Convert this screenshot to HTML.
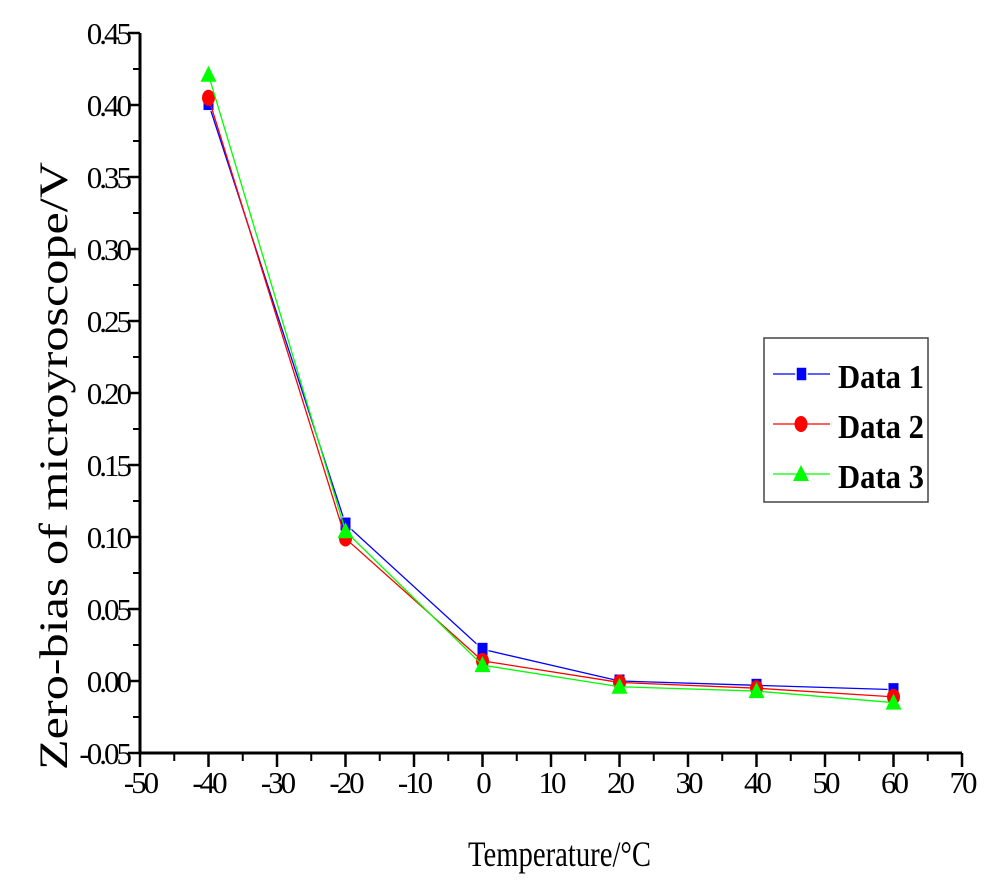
<!DOCTYPE html>
<html><head><meta charset="utf-8"><style>
html,body{margin:0;padding:0;background:#fff;}
svg{display:block;font-family:"Liberation Serif",serif;}
</style></head><body>
<svg id="chart" width="1000" height="887" viewBox="0 0 1000 887" xmlns="http://www.w3.org/2000/svg">
<g id="axes"></g><g id="series"></g>
<g>
<rect x="764" y="338" width="164" height="164" fill="#fff" stroke="#444" stroke-width="1.5"/>
<g>
<line x1="773" y1="374" x2="830" y2="374" stroke="#00f" stroke-width="1.2"/>
<rect x="796" y="367" width="11" height="14" fill="#00f" stroke="#fff" stroke-width="1.5"/>
<text x="838" y="388" font-size="34" font-weight="bold" textLength="86" lengthAdjust="spacingAndGlyphs">Data 1</text></g>
<g>
<line x1="773" y1="424" x2="830" y2="424" stroke="#f00" stroke-width="1.2"/>
<ellipse cx="801" cy="424" rx="6.5" ry="8" fill="#f00"/>
<text x="838" y="438" font-size="34" font-weight="bold" textLength="86" lengthAdjust="spacingAndGlyphs">Data 2</text></g>
<g>
<line x1="773" y1="474" x2="830" y2="474" stroke="#0f0" stroke-width="1.2"/>
<polygon points="793,481 809,481 801,465" fill="#0f0"/>
<text x="838" y="488" font-size="34" font-weight="bold" textLength="86" lengthAdjust="spacingAndGlyphs">Data 3</text></g>
</g>
<text x="468" y="866" font-size="36" textLength="183" lengthAdjust="spacingAndGlyphs">Temperature/°C</text>
<text transform="translate(67,466) rotate(-90)" text-anchor="middle" font-size="40" textLength="608" lengthAdjust="spacingAndGlyphs">Zero-bias of microyroscope/V</text>
</svg>
<script>
const categories = [-40, -20, 0, 20, 40, 60];
const data1 = [0.401, 0.109, 0.022, 0.000, -0.003, -0.006];
const data2 = [0.405, 0.099, 0.014, -0.001, -0.005, -0.011];
const data3 = [0.421, 0.104, 0.011, -0.004, -0.007, -0.015];
const xTicks = [-50, -40, -30, -20, -10, 0, 10, 20, 30, 40, 50, 60, 70];
const yTicks = [-0.05, 0.00, 0.05, 0.10, 0.15, 0.20, 0.25, 0.30, 0.35, 0.40, 0.45];

const NS = "http://www.w3.org/2000/svg";
const X0 = 140, X1 = 962, Y0 = 753, Y1 = 33;
function xs(v){ return X0 + (v - (-50)) / 120 * (X1 - X0); }
function ys(v){ return Y0 - (v - (-0.05)) / 0.5 * (Y0 - Y1); }
function mk(tag, attrs, parent){ const e = document.createElementNS(NS, tag); for (const k in attrs) e.setAttribute(k, attrs[k]); parent.appendChild(e); return e; }

const axes = document.getElementById('axes');
const xa = mk('line', {x1: X0, y1: Y0, x2: X1, y2: Y0, stroke: '#000', 'stroke-width': 3}, axes);


const ya = mk('line', {x1: X0, y1: Y0 + 1.5, x2: X0, y2: Y1, stroke: '#000', 'stroke-width': 3}, axes);


xTicks.forEach((t, i) => {
  const x = xs(t);
  mk('line', {x1: x, y1: Y0, x2: x, y2: Y0 + 14, stroke: '#000', 'stroke-width': 2.5}, axes);
  if (i < xTicks.length - 1) mk('line', {x1: xs(t + 5), y1: Y0, x2: xs(t + 5), y2: Y0 + 8, stroke: '#000', 'stroke-width': 2}, axes);
  const lbl = mk('text', {x: x, y: 793, 'font-size': 31, 'text-anchor': 'middle', 'letter-spacing': -3}, axes);
  lbl.textContent = String(t);
  
  
});
yTicks.forEach((t, i) => {
  const y = ys(t);
  mk('line', {x1: X0 - 12, y1: y, x2: X0, y2: y, stroke: '#000', 'stroke-width': 2.5}, axes);
  if (i < yTicks.length - 1) mk('line', {x1: X0 - 7, y1: ys(t + 0.025), x2: X0, y2: ys(t + 0.025), stroke: '#000', 'stroke-width': 2}, axes);
  const lbl = mk('text', {x: X0 - 11, y: y + 11, 'font-size': 31, 'text-anchor': 'end', 'letter-spacing': -3}, axes);
  lbl.textContent = t.toFixed(2);
  
  
});

const series = document.getElementById('series');
const defs = [[data1, '#00f', 'square', 'data-1'], [data2, '#f00', 'circle', 'data-2'], [data3, '#0f0', 'triangle', 'data-3']];
defs.forEach(([vals, col, shape, name]) => {
  const g = mk('g', {}, series);
  
  
  const pts = categories.map((c, i) => xs(c) + ',' + ys(vals[i])).join(' ');
  const pl = mk('polyline', {points: pts, fill: 'none', stroke: col, 'stroke-width': 1.3}, g);
  
  
  categories.forEach((c, i) => {
    const x = xs(c), y = ys(vals[i]);
    let m;
    if (shape === 'square') m = mk('rect', {x: x - 5.5, y: y - 7, width: 11, height: 14, fill: col, stroke: '#fff', 'stroke-width': 1}, g);
    else if (shape === 'circle') m = mk('ellipse', {cx: x, cy: y, rx: 6.5, ry: 8, fill: col}, g);
    else m = mk('polygon', {points: (x - 8) + ',' + (y + 7) + ' ' + (x + 8) + ',' + (y + 7) + ' ' + x + ',' + (y - 9), fill: col}, g);
    
    
  });
});
</script>
</body></html>
